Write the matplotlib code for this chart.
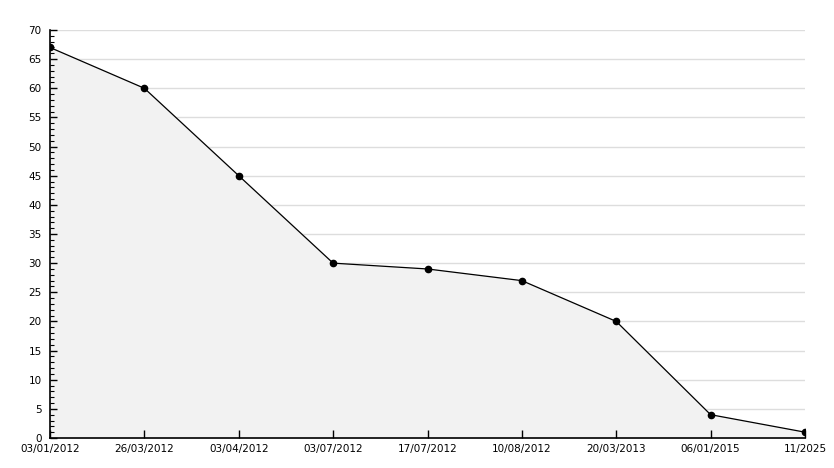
import matplotlib.pyplot as plt
from matplotlib.ticker import MultipleLocator

labels = ['03/01/2012', '26/03/2012', '03/04/2012', '03/07/2012', '17/07/2012',
          '10/08/2012', '20/03/2013', '06/01/2015', '11/2025']
values = [67, 60, 45, 30, 29, 27, 20, 4, 1]

fig = plt.figure(figsize=(8.34, 4.68), dpi=100)
ax = fig.add_axes([50 / 834, 30 / 468, 755 / 834, 408 / 468])

x = list(range(len(labels)))
ax.fill_between(x, values, 0, color='#f2f2f2', zorder=1)
ax.plot(x, values, '-', color='black', lw=0.9, zorder=3)
ax.plot(x, values, 'o', color='black', ms=4.5, zorder=4)

ax.set_xlim(0, len(labels) - 1)
ax.set_ylim(0, 70)
ax.set_xticks(x)
ax.set_xticklabels(labels)
ax.yaxis.set_major_locator(MultipleLocator(5))
ax.yaxis.set_minor_locator(MultipleLocator(1))

# gridlines sit under the filled area, ticks above it
for yv in ax.get_yticks()[1:]:
    ax.axhline(yv, color='#dddddd', lw=1, zorder=0.5)
ax.set_axisbelow(False)

for s in ['top', 'right']:
    ax.spines[s].set_visible(False)
for s in ['left', 'bottom']:
    ax.spines[s].set_linewidth(1.2)

ax.tick_params(axis='y', which='major', direction='in', length=5, width=1, labelsize=7.5, pad=6)
ax.tick_params(axis='y', which='minor', direction='in', length=3, width=0.8)
ax.tick_params(axis='x', direction='in', length=6, width=1, labelsize=7.5, pad=4)

fig.savefig('out.png', dpi=100)
